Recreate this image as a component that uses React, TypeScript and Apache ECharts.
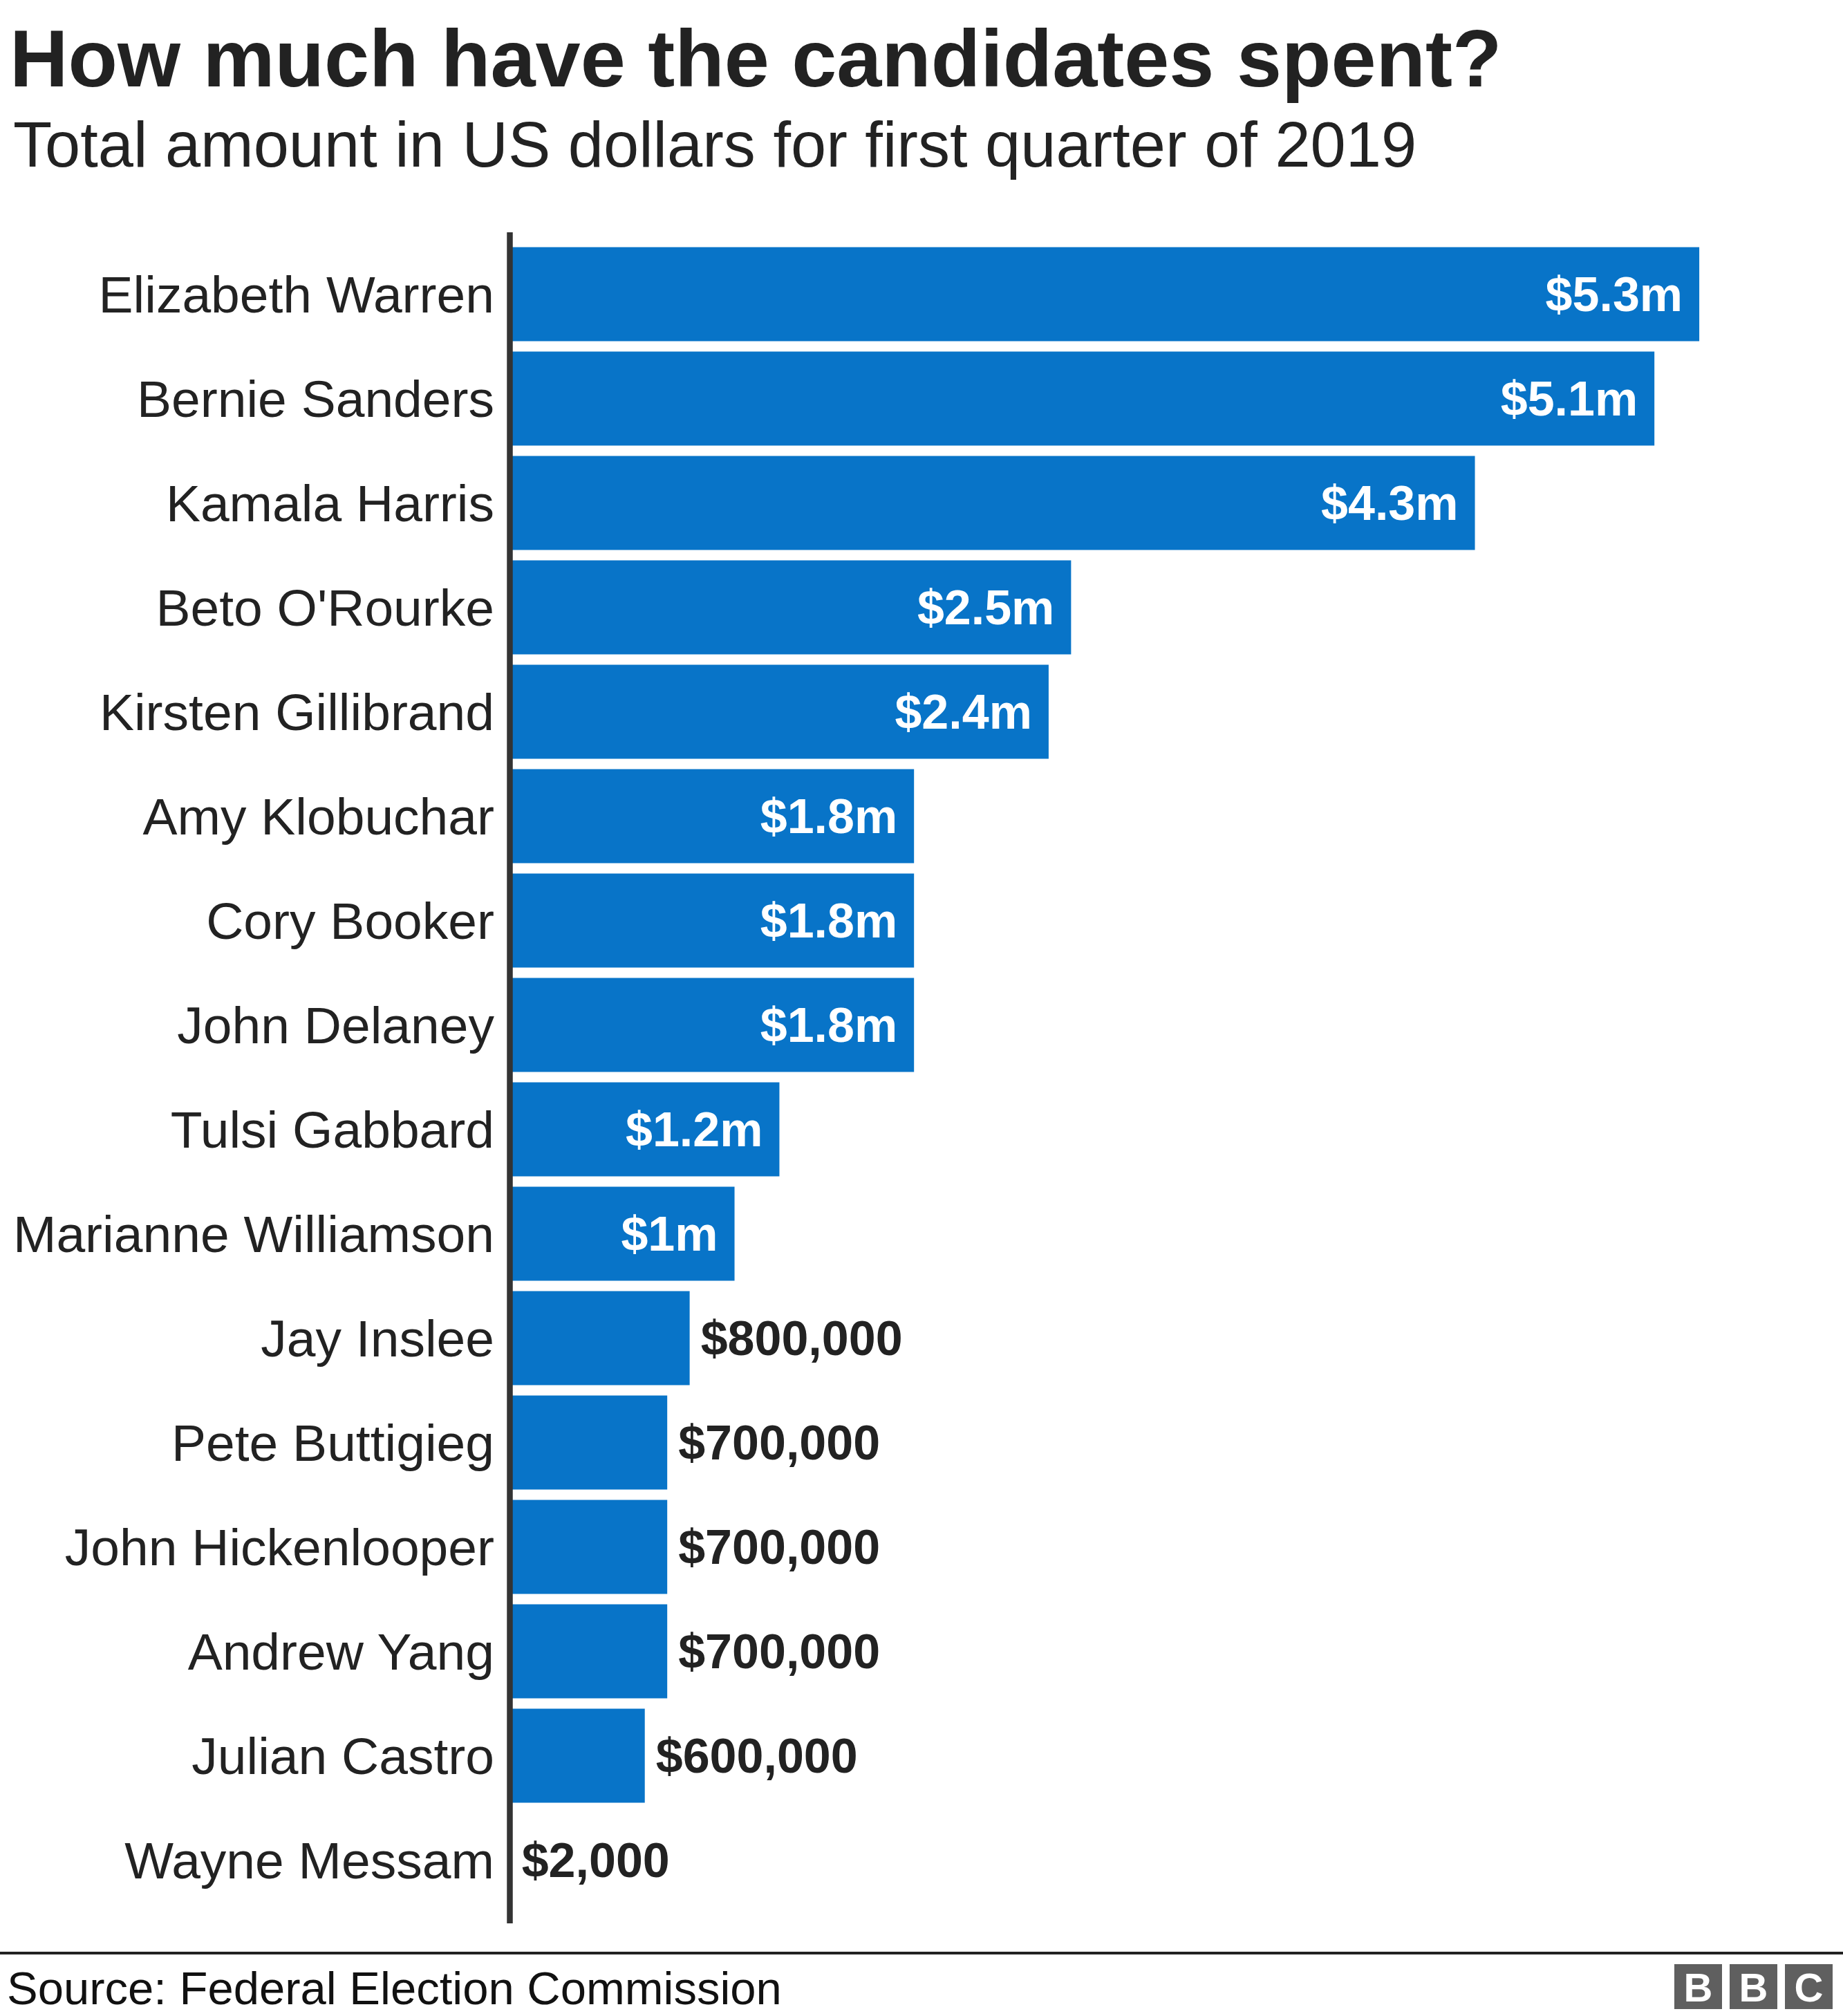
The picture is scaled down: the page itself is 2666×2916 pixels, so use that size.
import React, { useEffect, useRef } from "react";
import * as echarts from "echarts";

const categories = [
  "Elizabeth Warren",
  "Bernie Sanders",
  "Kamala Harris",
  "Beto O'Rourke",
  "Kirsten Gillibrand",
  "Amy Klobuchar",
  "Cory Booker",
  "John Delaney",
  "Tulsi Gabbard",
  "Marianne Williamson",
  "Jay Inslee",
  "Pete Buttigieg",
  "John Hickenlooper",
  "Andrew Yang",
  "Julian Castro",
  "Wayne Messam",
];

const spent = [
  5300000, 5100000, 4300000, 2500000, 2400000, 1800000, 1800000, 1800000,
  1200000, 1000000, 800000, 700000, 700000, 700000, 600000, 2000,
];

const TITLE = "How much have the candidates spent?";
const SUBTITLE = "Total amount in US dollars for first quarter of 2019";
const SOURCE = "Source: Federal Election Commission";

const FONT = '"Liberation Sans", Arial, Helvetica, sans-serif';
const BAR_COLOR = "#0874c8";
const TEXT_DARK = "#222222";

function formatValue(v: number): string {
  if (v >= 1000000) return "$" + String(Math.round((v / 1000000) * 10) / 10) + "m";
  return "$" + v.toLocaleString("en-US");
}

export default function App() {
  const ref = useRef<HTMLDivElement>(null);

  useEffect(() => {
    if (!ref.current) return;
    const chart = echarts.init(ref.current, undefined, { renderer: "svg" });

    const data = spent.map((v) => {
      const inside = v >= 1000000;
      return {
        value: v,
        label: inside
          ? {
              show: true,
              position: "insideRight",
              distance: 24,
              color: "#ffffff",
              fontWeight: "bold",
              fontSize: 70,
              fontFamily: FONT,
              formatter: () => formatValue(v),
            }
          : {
              show: true,
              position: "right",
              distance: 16,
              color: TEXT_DARK,
              fontWeight: "bold",
              fontSize: 70,
              fontFamily: FONT,
              formatter: () => formatValue(v),
            },
      };
    });

    const option: any = {
      animation: false,
      backgroundColor: "#ffffff",
      grid: { left: 738, top: 350, height: 2416, right: 143, containLabel: false },
      xAxis: {
        type: "value",
        min: 0,
        max: 5500000,
        show: false,
        splitLine: { show: false },
      },
      yAxis: {
        type: "category",
        data: categories,
        inverse: true,
        axisLine: { show: false },
        axisTick: { show: false },
        axisLabel: {
          margin: 23,
          fontSize: 75,
          color: TEXT_DARK,
          fontFamily: FONT,
        },
      },
      series: [
        {
          type: "bar",
          data,
          barCategoryGap: "10%",
          itemStyle: { color: BAR_COLOR },
          emphasis: { disabled: true },
        },
      ],
      graphic: [
        {
          type: "text",
          left: 14,
          top: 26,
          style: {
            text: TITLE,
            font: `bold 117px ${FONT}`,
            fill: TEXT_DARK,
          },
        },
        {
          type: "text",
          left: 19,
          top: 163,
          style: {
            text: SUBTITLE,
            font: `92px ${FONT}`,
            fill: TEXT_DARK,
          },
        },
        {
          type: "line",
          z: 100,
          shape: { x1: 737.5, y1: 336, x2: 737.5, y2: 2782 },
          style: { stroke: "#333333", lineWidth: 8.5 },
        },
        {
          type: "line",
          z: 100,
          shape: { x1: 0, y1: 2825, x2: 2666, y2: 2825 },
          style: { stroke: "#222222", lineWidth: 4 },
        },
        {
          type: "text",
          left: 10,
          top: 2842,
          style: {
            text: SOURCE,
            font: `67px ${FONT}`,
            fill: "#111111",
          },
        },
        ...["B", "B", "C"].flatMap((ch, i) => {
          const x = 2422 + i * 80;
          return [
            {
              type: "rect",
              shape: { x, y: 2841, width: 69, height: 65 },
              style: { fill: "#5f5f5f" },
            },
            {
              type: "text",
              x: x + 34.5,
              y: 2874,
              style: {
                text: ch,
                font: `bold 58px ${FONT}`,
                fill: "#ffffff",
                align: "center",
                verticalAlign: "middle",
              },
            },
          ];
        }),
      ],
    };

    chart.setOption(option);
    return () => chart.dispose();
  }, []);

  return (
    <div
      ref={ref}
      style={{ position: "absolute", left: 0, top: 0, width: "2666px", height: "2916px" }}
    />
  );
}
